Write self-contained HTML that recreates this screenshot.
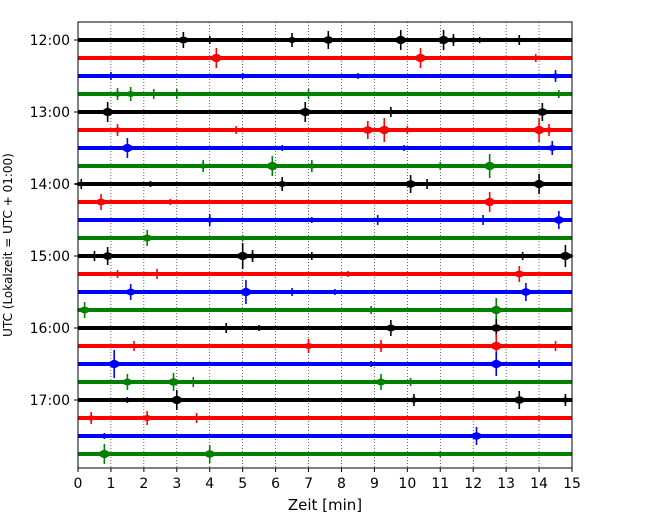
<!DOCTYPE html>
<html><head><meta charset="utf-8"><style>
body{margin:0;background:#fff;font-family:"Liberation Sans","DejaVu Sans",sans-serif}
</style></head><body>
<svg id="c" width="650" height="520" xmlns="http://www.w3.org/2000/svg" font-family="'DejaVu Sans','Liberation Sans',sans-serif"></svg>
<script>
const rowLabels=["12:00","","","","13:00","","","","14:00","","","","15:00","","","","16:00","","","","17:00","","",""];
const colors=["#000","#f00","#00f","#008000"];
const xTicks=[0,1,2,3,4,5,6,7,8,9,10,11,12,13,14,15];
const ev0=[[3.2,8],[4.0,4],[6.5,7],[7.6,9],[9.8,10],[11.1,10],[11.4,6],[13.4,5],[12.2,3]];
const ev1=[[4.2,10],[10.4,10],[2.0,3],[13.9,4]];
const ev2=[[1.0,4],[8.5,3],[14.5,6],[5.0,3]];
const ev3=[[1.2,6],[1.6,7],[2.3,5],[3.0,5],[7.0,5],[14.6,4]];
const ev4=[[0.9,10],[6.9,10],[9.5,5],[14.1,9]];
const ev5=[[1.2,6],[8.8,9],[9.3,12],[14.0,12],[14.3,6],[10.0,4],[4.8,4]];
const ev6=[[1.5,10],[14.4,7],[6.2,3],[9.9,3]];
const ev7=[[3.8,6],[5.9,10],[7.1,6],[12.5,12],[11.0,4]];
const ev8=[[0.1,5],[6.2,7],[10.1,9],[10.6,5],[14.0,10],[2.2,3]];
const ev9=[[0.7,8],[12.5,10],[2.8,3]];
const ev10=[[4.0,6],[9.1,5],[12.3,5],[14.6,9],[7.1,3]];
const ev11=[[2.1,8],[5.0,3]];
const ev12=[[0.9,9],[0.5,5],[5.0,13],[5.3,6],[7.1,4],[13.5,4],[14.8,11]];
const ev13=[[1.2,4],[2.4,5],[13.4,8],[8.2,3]];
const ev14=[[1.6,8],[5.1,12],[6.5,4],[13.6,9],[7.8,3]];
const ev15=[[0.2,8],[12.7,12],[8.9,4]];
const ev16=[[4.5,5],[9.5,8],[12.7,9],[5.5,3]];
const ev17=[[1.7,5],[7.0,7],[9.2,6],[12.7,12],[14.5,5]];
const ev18=[[1.1,14],[12.7,12],[14.0,4],[8.9,3]];
const ev19=[[1.5,8],[2.9,9],[3.5,5],[9.2,8],[10.1,4]];
const ev20=[[3.0,10],[10.2,6],[13.4,9],[14.8,6],[1.5,3]];
const ev21=[[0.4,6],[2.1,7],[3.6,5],[14.0,3]];
const ev22=[[12.1,9],[0.8,3]];
const ev23=[[0.8,10],[4.0,9],[11.0,3]];
const events=[ev0,ev1,ev2,ev3,ev4,ev5,ev6,ev7,ev8,ev9,ev10,ev11,ev12,ev13,ev14,ev15,ev16,ev17,ev18,ev19,ev20,ev21,ev22,ev23];

const NS="http://www.w3.org/2000/svg",svg=document.getElementById('c');
const L=78,R=572,T=22,B=468;
const xs=m=>L+(m/15)*(R-L);
const ys=i=>40+i*18;
function mk(t,a,p){const e=document.createElementNS(NS,t);for(const k in a)e.setAttribute(k,a[k]);(p||svg).appendChild(e);return e;}
xTicks.forEach(t=>{if(t>0&&t<15){const g=mk('line',{x1:xs(t),x2:xs(t),y1:T,y2:B,stroke:'#000','stroke-width':0.6,'stroke-dasharray':'1,2'});

}});
events.forEach((ev,i)=>{
 const c=colors[i%4],y=ys(i);
 const g=mk('g',{});
 
 
 mk('rect',{x:L,y:y-2,width:R-L,height:4,fill:c},g);
 ev.forEach(([t,a])=>{
  const x=xs(t),w=(R-L)/15*0.25,h=Math.min(a*0.4,4);
  const p=mk('polygon',{points:`${x-w},${y} ${x-1.5},${y-h} ${x+1.5},${y-h} ${x+w},${y} ${x+1.5},${y+h} ${x-1.5},${y+h}`,fill:c},g);
  
  
  mk('line',{x1:x,x2:x,y1:y-a,y2:y+a,stroke:c,'stroke-width':1.6},g);
 });
});
const f=mk('rect',{x:L,y:T,width:R-L,height:B-T,fill:'none',stroke:'#000','stroke-width':1});


xTicks.forEach(t=>{
 mk('line',{x1:xs(t),x2:xs(t),y1:B,y2:B+4,stroke:'#000'});
 const tx=mk('text',{x:xs(t),y:B+20,'text-anchor':'middle','font-size':14});
 tx.textContent=t;
 
 
});
rowLabels.forEach((l,i)=>{if(!l)return;
 mk('line',{x1:L-4,x2:L,y1:ys(i),y2:ys(i),stroke:'#000'});
 const tx=mk('text',{x:L-8,y:ys(i)+5,'text-anchor':'end','font-size':14});
 tx.textContent=l;
 
 
});
const xt=mk('text',{x:325,y:510,'text-anchor':'middle','font-size':15});
xt.textContent='Zeit  [min]';xt.setAttribute('xml:space','preserve');


const yt=mk('text',{x:0,y:0,'text-anchor':'middle','font-size':12,transform:'translate(12,245) rotate(-90)'});
yt.textContent='UTC (Lokalzeit = UTC + 01:00)';


</script>
</body></html>
